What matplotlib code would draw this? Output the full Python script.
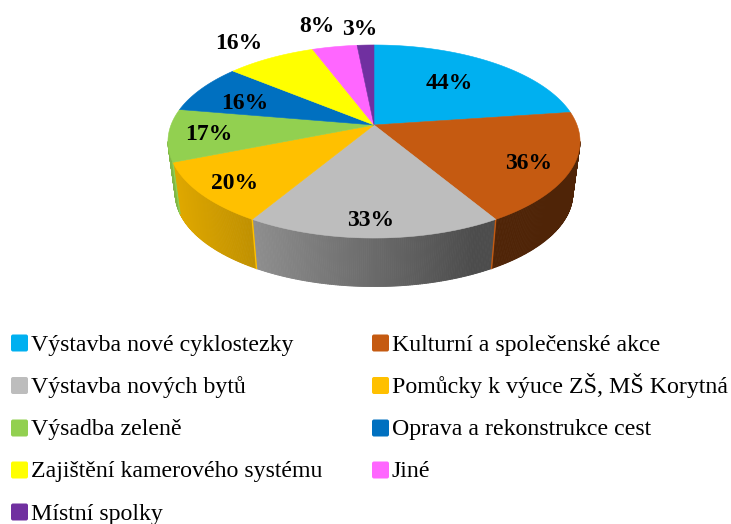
import numpy as np
import matplotlib
matplotlib.use("Agg")
import matplotlib.pyplot as plt
from matplotlib.collections import PolyCollection
from matplotlib.patches import FancyBboxPatch

categories = ["Výstavba nové cyklostezky", "Kulturní a společenské akce",
              "Výstavba nových bytů", "Pomůcky k výuce ZŠ, MŠ Korytná",
              "Výsadba zeleně", "Oprava a rekonstrukce cest",
              "Zajištění kamerového systému", "Jiné", "Místní spolky"]
values = [44, 36, 33, 20, 17, 16, 16, 8, 3]
colors = ["#00B0F0", "#C55A11", "#BDBDBD", "#FFC000", "#92D050",
          "#0070C0", "#FFFF00", "#FF66FF", "#7030A0"]
label_xy = [(449, 83.5), (529, 163.5), (371, 220), (235, 183.5), (209, 135),
            (245, 103.5), (239, 43.5), (317, 26.5), (360, 29.5)]

plt.rcParams["font.family"] = ["Liberation Serif", "DejaVu Serif"]
fig = plt.figure(figsize=(7.31, 5.24), dpi=100)
ax = fig.add_axes([0, 0, 1, 1])
ax.set_xlim(0, 731)
ax.set_ylim(524, 0)
ax.axis("off")

CX, CY, B, A, K = 374.0, 125.0, 203.0, 93.7, 0.171
S, D = 0.965, 52.5


def project(theta, scale=1.0, drop=0.0):
    u, v = np.sin(theta), np.cos(theta)
    w = 1 + K * v
    return CX + scale * B * u / w, CY - scale * A * v / w + drop


def rgb(c):
    return np.array(matplotlib.colors.to_rgb(c))


def shade(x):
    return np.clip(0.88 - 0.5 * (x - 170) / 320, 0.40, 0.88)


edges = np.radians(np.cumsum([0] + values) / sum(values) * 360)
side_lo, side_hi = np.arccos(-K), 2 * np.pi - np.arccos(-K)

# side wall
for i, col in enumerate(colors):
    lo, hi = max(edges[i], side_lo), min(edges[i + 1], side_hi)
    if hi <= lo:
        continue
    th = np.linspace(lo, hi, max(2, int((hi - lo) * 120)))
    xt, yt = project(th)
    xb, yb = project(th, S, D)
    polys, fc = [], []
    for j in range(len(th) - 1):
        polys.append([(xt[j], yt[j]), (xt[j + 1], yt[j + 1]),
                      (xb[j + 1], yb[j + 1]), (xb[j], yb[j])])
        fc.append(rgb(col) * shade((xt[j] + xt[j + 1]) / 2))
    ax.add_collection(PolyCollection(polys, facecolors=fc, edgecolors=fc,
                                     linewidths=0.6, zorder=2))

# slice-coloured seams where slices meet on the wall
for idx, seam in ((2, colors[1]), (3, colors[3]), (4, colors[4])):
    t = edges[idx]
    x0, y0 = project(t)
    x1, y1 = project(t, S, D)
    ax.plot([x0, x1], [y0, y1], color=seam, lw=1.0, zorder=4)

# top faces
for i, col in enumerate(colors):
    th = np.linspace(edges[i], edges[i + 1], 120)
    x, y = project(th)
    ax.fill(np.r_[CX, x], np.r_[CY, y], facecolor=col, edgecolor=col, lw=0.4, zorder=5)

# value labels
for (x, y), v in zip(label_xy, values):
    ax.text(x, y, f"{v}%", ha="center", va="center", fontsize=17,
            fontweight="bold", color="black", zorder=6)

# legend
col_x = [11, 372]
box_y = [343, 385.5, 428, 470, 512]
base_y = [351, 393, 435, 477, 520]
for i, (name, col) in enumerate(zip(categories, colors)):
    x0, r = col_x[i % 2], i // 2
    ax.add_patch(FancyBboxPatch((x0 + 1.5, box_y[r] - 7), 14, 14,
                                boxstyle="round,pad=1.5,rounding_size=2",
                                facecolor=col, edgecolor="none", zorder=5))
    ax.text(x0 + 20, base_y[r], name, ha="left", va="baseline", fontsize=17.2,
            color="black", zorder=6)

fig.savefig("out.png", dpi=100)
